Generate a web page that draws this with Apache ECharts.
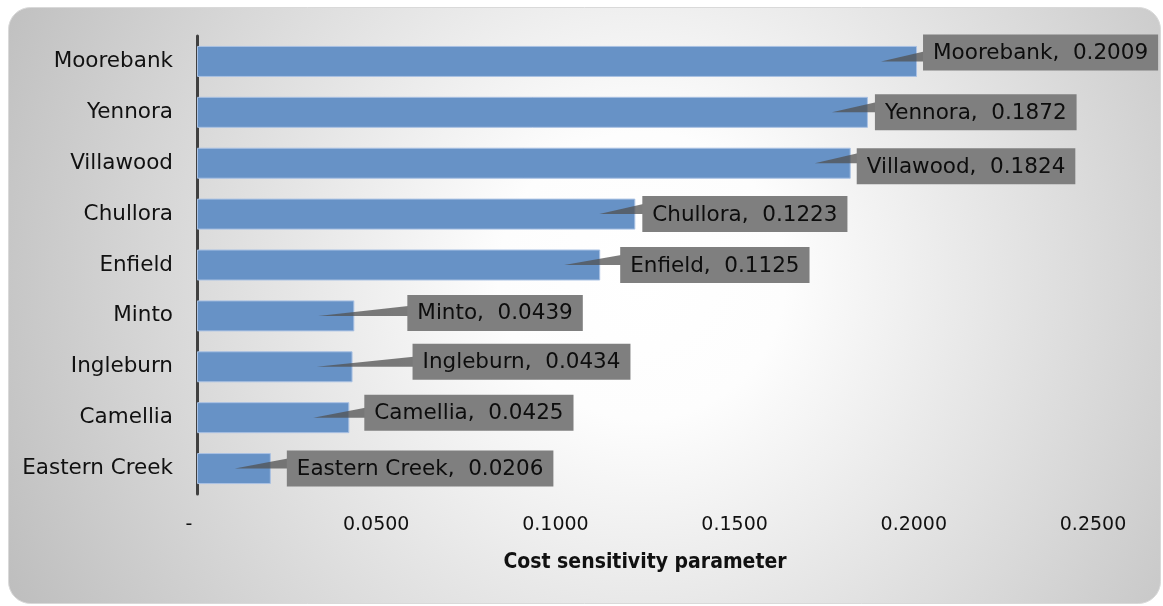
<!DOCTYPE html>
<html><head><meta charset="utf-8">
<script src="https://cdn.jsdelivr.net/npm/echarts@6/dist/echarts.min.js"></script>
<style>html,body{margin:0;padding:0;background:#fff;} #c{width:1163px;height:606px;}</style>
</head><body><div id="c"></div>
<script>
// ---- data ----
const categories = ['Moorebank','Yennora','Villawood','Chullora','Enfield','Minto','Ingleburn','Camellia','Eastern Creek'];
const values = [0.2009,0.1872,0.1824,0.1223,0.1125,0.0439,0.0434,0.0425,0.0206];
const xTicks = [0, 0.05, 0.10, 0.15, 0.20, 0.25];
const axisTitle = 'Cost sensitivity parameter';

// ---- layout nudges of the callout boxes (pixels), as placed in the original ----
const calloutShiftX = [6, 7, 6, 7, 20, 53, 60, 15, 16];
const calloutShiftY = [-9, 0, 3, 0, 0, -3, -5, -5, 0];

const LABEL_FONT = '21.5px "DejaVu Sans"';
const mctx = document.createElement('canvas').getContext('2d');
mctx.font = LABEL_FONT;
function fmt(v){ return v.toFixed(4); }

const chart = echarts.init(document.getElementById('c'), null, {renderer:'canvas'});
chart.setOption({
  animation: false,
  graphic: [{
    type: 'rect', left: 8, top: 7, z: -10, silent: true,
    shape: {width: 1152, height: 596, r: 22},
    style: {
      fill: {type:'radial', x:0.55, y:0.45, r:1.2, colorStops:[
        {offset:0, color:'#ffffff'}, {offset:0.2, color:'#fdfdfd'}, {offset:1, color:'#bdbdbd'}]},
      stroke: '#d9d9d9', lineWidth: 1
    }
  }],
  grid: {left: 197, right: 70, top: 36, bottom: 112, containLabel: false},
  xAxis: {
    type: 'value', min: xTicks[0], max: xTicks[xTicks.length-1], interval: xTicks[1]-xTicks[0],
    axisLine: {show:false}, axisTick: {show:false}, splitLine: {show:false},
    axisLabel: {
      fontFamily: 'DejaVu Sans', fontSize: 19, color: '#111', margin: 22,
      formatter: function(v){ return Math.abs(v) < 1e-9 ? '{z|-}' : fmt(v); },
      rich: {z: {fontFamily:'DejaVu Sans', fontSize:19, color:'#111', padding:[0,16,0,0]}}
    },
    name: axisTitle, nameLocation: 'middle', nameGap: 58,
    nameTextStyle: {fontFamily: '"DejaVu Sans Condensed", "DejaVu Sans"', fontWeight: 'bold', fontSize: 21, color: '#111'}
  },
  yAxis: {
    type: 'category', data: categories, inverse: true,
    axisLine: {lineStyle: {color: '#404040', width: 3}},
    axisTick: {show: false},
    axisLabel: {fontFamily: 'DejaVu Sans', fontSize: 21.5, color: '#111', margin: 24}
  },
  series: [{
    type: 'bar', data: values, barWidth: 31,
    itemStyle: {color: '#6792C6', borderColor: '#A9C1E3', borderWidth: 1},
    z: 2
  }, {
    type: 'custom', z: 5, clip: false,
    data: values.map((v,i) => [v, i]),
    encode: {x: 0, y: 1},
    renderItem: function(params, api){
      const i = params.dataIndex;
      const v = api.value(0);
      const end = api.coord([v, api.value(1)]);
      const text = categories[i] + ',  ' + fmt(v);
      const tw = mctx.measureText(text).width;
      const boxH = 36;
      const boxL = end[0] + calloutShiftX[i];
      const boxCY = end[1] + calloutShiftY[i];
      const boxT = boxCY - boxH/2;
      const boxW = tw + 20;
      let by1 = Math.min(Math.max(end[1] - 10, boxT + 2), boxT + boxH - 12);
      const by2 = by1 + 10;
      return {
        type: 'group',
        children: [
          {type:'polygon', shape:{points:[[end[0]-36, end[1]], [boxL+1, by1], [boxL+1, by2]]},
           style:{fill:'rgba(80,80,80,0.75)'}},
          {type:'rect', shape:{x:boxL, y:boxT, width:boxW, height:boxH},
           style:{fill:'#7f7f7f'}},
          {type:'text', x: boxL + 10, y: boxCY + 1,
           style:{text:text, font: LABEL_FONT, fill:'#0d0d0d', textAlign:'left', textVerticalAlign:'middle', verticalAlign:'middle'}}
        ]
      };
    }
  }]
});
</script>
</body></html>
